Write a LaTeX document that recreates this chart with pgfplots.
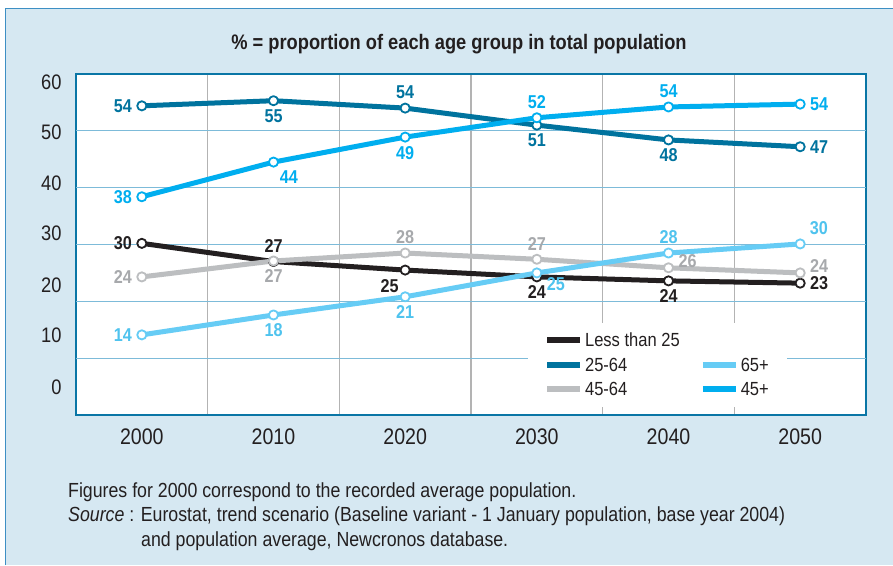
\documentclass[border=0pt]{standalone}
\usepackage{fontspec}
\setmainfont{Liberation Sans}[FakeStretch=0.87]
\usepackage{pgfplots}
\pgfplotsset{compat=1.18}
\usepackage{pgfplotstable}

\definecolor{bgc}{HTML}{D6E8F2}
\definecolor{bordc}{HTML}{3D8FC4}
\definecolor{framec}{HTML}{0A76A6}
\definecolor{ygridc}{HTML}{7DBBD9}
\definecolor{xgridc}{HTML}{B3B3B3}
\definecolor{txt}{HTML}{231F20}
\definecolor{cBlack}{HTML}{231F20}
\definecolor{cTeal}{HTML}{00739E}
\definecolor{cGrey}{HTML}{BCBEC0}
\definecolor{cGreyT}{HTML}{A7A9AC}
\definecolor{cLight}{HTML}{66CCF5}
\definecolor{cLightT}{HTML}{4FC3EE}
\definecolor{cCyan}{HTML}{00AEEF}

\pgfplotstableread{
x y lab
2000 30.2 30
2010 27.0 27
2020 25.5 25
2030 24.3 24
2040 23.6 24
2050 23.2 23
}\tblLess

\pgfplotstableread{
x y lab
2000 54.4 54
2010 55.3 55
2020 54.0 54
2030 51.0 51
2040 48.4 48
2050 47.2 47
}\tblMid

\pgfplotstableread{
x y lab
2000 24.3 24
2010 27.1 27
2020 28.5 28
2030 27.4 27
2040 25.9 26
2050 25.0 24
}\tblOld

\pgfplotstableread{
x y lab
2000 14.1 14
2010 17.6 18
2020 20.8 21
2030 25.0 25
2040 28.5 28
2050 30.1 30
}\tblSenior

\pgfplotstableread{
x y lab
2000 38.4 38
2010 44.5 44
2020 48.9 49
2030 52.3 52
2040 54.2 54
2050 54.7 54
}\tblFortyfive

\newcommand{\lblfont}{\fontsize{18.6}{20}\selectfont\bfseries}

% #1 line colour, #2 label colour, #3 label anchor angles (one per point)
\pgfplotsset{
  serie/.style n args={3}{
    forget plot,
    color=#1, line width=5pt, line join=round,
    mark=*, mark size=4.6pt,
    mark options={fill=white, draw=#1, line width=1.8pt, solid},
    nodes near coords,
    point meta=explicit symbolic,
    visualization depends on={value \coordindex \as \idx},
    every node near coord/.append style={
      /utils/exec={\pgfmathtruncatemacro\myanc{{#3}[\idx]}},
      anchor=\myanc, font=\lblfont,
      text=#2, inner xsep=3pt, inner ysep=2pt, outer sep=7pt},
  },
}

\begin{document}
\begin{tikzpicture}[x=1pt,y=1pt]
\useasboundingbox (0,0) rectangle (893,565);
\fill[bgc] (5,0) rectangle (893,556);
\draw[bordc, line width=1pt] (5,0) -- (5,556) -- (893,556);
\node[anchor=base, inner sep=0pt, font=\fontsize{21}{25}\selectfont\bfseries, text=txt]
  at (459,515) {\% = proportion of each age group in total population};

\begin{axis}[
  at={(76pt,150pt)}, anchor=south west,
  scale only axis, width=790pt, height=341pt,
  xmin=1995, xmax=2055, ymin=0, ymax=60,
  clip=false,
  axis background/.style={fill=white},
  axis line style={draw=framec, line width=2pt},
  xtick={2000,2010,2020,2030,2040,2050},
  xticklabels={2000,2010,2020,2030,2040,2050},
  minor xtick={2005,2015,2025,2035,2045},
  xminorgrids=true,
  minor grid style={draw=xgridc, line width=1.2pt},
  ytick={4.9,14.1,22.9,32.0,40.8,49.8,58.6},
  yticklabels={0,10,20,30,40,50,60},
  extra y ticks={10,20,30,40,50},
  extra y tick labels={},
  extra y tick style={grid=major, major grid style={draw=ygridc, line width=1.2pt}},
  major tick length=0pt, minor tick length=0pt,
  tick style={draw=none},
  /pgf/number format/assume math mode=true,
  xticklabel style={font=\fontsize{22.5}{26}\selectfont, text=txt, yshift=-10pt},
  yticklabel style={font=\fontsize{21}{24}\selectfont, text=txt, xshift=-11pt},
  legend image code/.code={\draw[#1] (0pt,0pt) -- (33pt,0pt);},
  legend columns=2,
  legend cell align=left,
  legend style={at={(0.572,0.023)}, anchor=south west, fill=white, draw=none,
    inner xsep=16pt, inner ysep=7pt, row sep=3.5pt,
    font=\fontsize{19}{22}\selectfont, text=txt,
    nodes={inner sep=2pt, text height=15pt, text depth=2pt},
    /tikz/every even column/.append style={column sep=18pt}},
]
\addplot[serie={cBlack}{cBlack}{0,270,45,90,90,180}] table[x=x, y=y, meta=lab] {\tblLess};
\addplot[serie={cTeal}{cTeal}{0,90,270,90,90,180}] table[x=x, y=y, meta=lab] {\tblMid};
\addplot[serie={cGrey}{cGreyT}{0,90,270,270,200,200}] table[x=x, y=y, meta=lab] {\tblOld};
\addplot[serie={cLight}{cLightT}{0,90,90,150,270,220}] table[x=x, y=y, meta=lab] {\tblSenior};
\addplot[serie={cCyan}{cCyan}{0,135,90,270,270,180}] table[x=x, y=y, meta=lab] {\tblFortyfive};

\addlegendimage{line width=6pt, cBlack}
\addlegendentry{Less than 25}
\addlegendimage{empty legend}
\addlegendentry{}
\addlegendimage{line width=6pt, cTeal}
\addlegendentry{25-64}
\addlegendimage{line width=6pt, cLight}
\addlegendentry{65+}
\addlegendimage{line width=6pt, cGrey}
\addlegendentry{45-64}
\addlegendimage{line width=6pt, cCyan}
\addlegendentry{45+}
\end{axis}

\node[anchor=base west, inner sep=0pt, font=\fontsize{20.4}{24}\selectfont, text=txt]
  at (68,68) {Figures for 2000 correspond to the recorded average population.};
\node[anchor=base west, inner sep=0pt, font=\fontsize{20.4}{24}\selectfont, text=txt]
  at (68,43.5) {\textit{Source} : Eurostat, trend scenario (Baseline variant - 1 January population, base year 2004)};
\node[anchor=base west, inner sep=0pt, font=\fontsize{20.4}{24}\selectfont, text=txt]
  at (141,19) {and population average, Newcronos database.};
\end{tikzpicture}
\end{document}
